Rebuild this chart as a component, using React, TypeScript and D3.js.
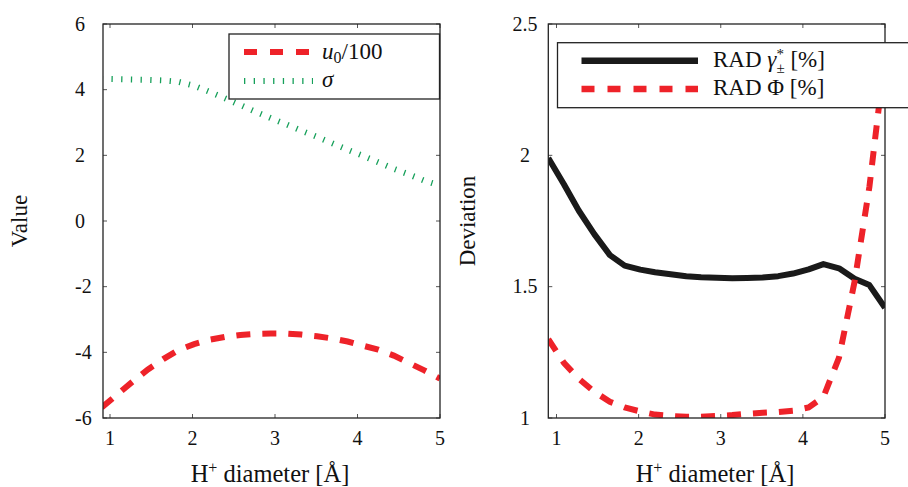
import React from "react";
import * as d3 from "d3";

// H+ diameter grid [Å]
const diam = [0.9, 1.09, 1.27, 1.46, 1.65, 1.83, 2.02, 2.2, 2.39, 2.58, 2.76, 2.95, 3.14, 3.32, 3.51, 3.7, 3.88, 4.07, 4.25, 4.44, 4.63, 4.81, 5.0];

// Left panel
const u0Over100 = [-5.68, -5.28, -4.9, -4.52, -4.2, -3.93, -3.75, -3.62, -3.53, -3.47, -3.44, -3.43, -3.43, -3.46, -3.51, -3.58, -3.67, -3.8, -3.92, -4.1, -4.33, -4.55, -4.8];
const sigma = [4.33, 4.32, 4.31, 4.3, 4.28, 4.24, 4.12, 3.94, 3.74, 3.53, 3.33, 3.13, 2.94, 2.75, 2.56, 2.36, 2.17, 1.98, 1.79, 1.59, 1.41, 1.23, 1.08];

// Right panel
const radGamma = [1.99, 1.89, 1.79, 1.7, 1.62, 1.58, 1.565, 1.555, 1.547, 1.54, 1.536, 1.534, 1.532, 1.533, 1.535, 1.54, 1.55, 1.566, 1.586, 1.57, 1.53, 1.506, 1.42];
const radPhi = [1.3, 1.21, 1.15, 1.1, 1.062, 1.04, 1.025, 1.013, 1.008, 1.005, 1.005, 1.008, 1.011, 1.016, 1.02, 1.023, 1.028, 1.04, 1.08, 1.23, 1.52, 1.88, 2.38];

const xTicks = [1, 2, 3, 4, 5];
const leftYTicks = [-6, -4, -2, 0, 2, 4, 6];
const leftYLabels = ["-6", "-4", "-2", "0", "2", "4", "6"];
const rightYTicks = [1, 1.5, 2, 2.5];
const rightYLabels = ["1", "1.5", "2", "2.5"];

const RED = "#ee2229";
const GREEN = "#16a05a";
const BLACK = "#1a1a1a";
const FONT = "'Liberation Serif', 'Times New Roman', serif";

type PanelProps = {
  id: string;
  x0: number; x1: number; y0: number; y1: number;
  xDomain: [number, number];
  yDomain: [number, number];
  yTicks: number[];
  yLabels: string[];
  yLabelX: number;
  yLabelAnchor: "start" | "middle" | "end";
  children: (sx: d3.ScaleLinear<number, number>, sy: d3.ScaleLinear<number, number>) => React.ReactNode;
};

function Panel(p: PanelProps) {
  const sx = d3.scaleLinear().domain(p.xDomain).range([p.x0, p.x1]);
  const sy = d3.scaleLinear().domain(p.yDomain).range([p.y1, p.y0]);
  const tl = 4;
  return (
    <g>
      <defs>
        <clipPath id={p.id}>
          <rect x={p.x0} y={p.y0} width={p.x1 - p.x0} height={p.y1 - p.y0} />
        </clipPath>
      </defs>
      <g clipPath={`url(#${p.id})`}>{p.children(sx, sy)}</g>
      {xTicks.map((t) => (
        <g key={"xt" + t}>
          <line x1={sx(t)} x2={sx(t)} y1={p.y1} y2={p.y1 - tl} stroke="#555" strokeWidth={1} />
          <line x1={sx(t)} x2={sx(t)} y1={p.y0} y2={p.y0 + tl} stroke="#555" strokeWidth={1} />
          <text x={sx(t)} y={p.y1 + 27} textAnchor="middle" fontSize={20} fontFamily={FONT} fill="#111">{t}</text>
        </g>
      ))}
      {p.yTicks.map((t, i) => (
        <g key={"yt" + t}>
          <line x1={p.x0} x2={p.x0 + tl} y1={sy(t)} y2={sy(t)} stroke="#555" strokeWidth={1} />
          <line x1={p.x1} x2={p.x1 - tl} y1={sy(t)} y2={sy(t)} stroke="#555" strokeWidth={1} />
          <text x={p.yLabelX} y={sy(t) + 6.5} textAnchor={p.yLabelAnchor} fontSize={20} fontFamily={FONT} fill="#111">{p.yLabels[i]}</text>
        </g>
      ))}
      <rect x={p.x0} y={p.y0} width={p.x1 - p.x0} height={p.y1 - p.y0} fill="none" stroke="#222" strokeWidth={1.3} />
    </g>
  );
}

export default function App() {
  const lineOf = (sx: any, sy: any, ys: number[]) =>
    d3.line<number>().x((_, i) => sx(diam[i])).y((v) => sy(v))(ys) || "";

  return (
    <div>
      <style>{`body{margin:0}`}</style>
      <svg width={908} height={487} style={{ display: "block", background: "#fff" }}>
        <rect width={908} height={487} fill="#fff" />
        {/* Left panel */}
        <Panel id="clipL" x0={103} x1={440} y0={24} y1={418} xDomain={[0.915, 5]} yDomain={[-6, 6]}
          yTicks={leftYTicks} yLabels={leftYLabels} yLabelX={75} yLabelAnchor="start">
          {(sx, sy) => (
            <g>
              <path d={lineOf(sx, sy, sigma)} fill="none" stroke={GREEN} strokeWidth={6} strokeDasharray="1.3 8.4" />
              <path d={lineOf(sx, sy, u0Over100)} fill="none" stroke={RED} strokeWidth={6} strokeDasharray="14 12" />
            </g>
          )}
        </Panel>
        {/* Left legend */}
        <g>
          <rect x={229} y={34} width={210.5} height={65} fill="#fff" stroke="#222" strokeWidth={1.3} />
          <line x1={244} x2={313} y1={52} y2={52} stroke={RED} strokeWidth={6} strokeDasharray="13 13" />
          <text x={322} y={58.5} fontSize={23} fontFamily={FONT} fill="#111">
            <tspan fontStyle="italic">u</tspan>
            <tspan fontSize={16} dy={4}>0</tspan>
            <tspan dy={-4}>/100</tspan>
          </text>
          <line x1={244} x2={313} y1={81} y2={81} stroke={GREEN} strokeWidth={6} strokeDasharray="1.3 8.4" />
          <text x={322} y={86.5} fontSize={23} fontFamily={FONT} fontStyle="italic" fill="#111">σ</text>
        </g>
        <text transform="translate(27,221) rotate(-90)" textAnchor="middle" fontSize={23} fontFamily={FONT} fill="#111">Value</text>
        <text x={270} y={481.5} textAnchor="middle" fontSize={24.5} fontFamily={FONT} fill="#111">
          H<tspan fontSize={16} dy={-9}>+</tspan><tspan dy={9}> diameter [Å]</tspan>
        </text>

        {/* Right panel */}
        <Panel id="clipR" x0={548.3} x1={885} y0={24} y1={418} xDomain={[0.9, 5]} yDomain={[1, 2.5]}
          yTicks={rightYTicks} yLabels={rightYLabels} yLabelX={525} yLabelAnchor="middle">
          {(sx, sy) => (
            <g>
              <path d={lineOf(sx, sy, radGamma)} fill="none" stroke={BLACK} strokeWidth={6} strokeLinejoin="round" />
              <path d={lineOf(sx, sy, radPhi)} fill="none" stroke={RED} strokeWidth={6} strokeDasharray="14 12" />
            </g>
          )}
        </Panel>
        {/* Right legend */}
        <g>
          <rect x={557.5} y={42.7} width={360} height={65} fill="#fff" stroke="#222" strokeWidth={1.3} />
          <line x1={581.5} x2={698} y1={60.7} y2={60.7} stroke={BLACK} strokeWidth={6.5} />
          <text x={713} y={66.5} fontSize={23} fontFamily={FONT} fill="#111">
            RAD <tspan fontStyle="italic">γ</tspan>
            <tspan fontSize={15} dy={-8}>*</tspan>
            <tspan fontSize={15} dx={-7.5} dy={14}>±</tspan>
            <tspan dy={-6}> [%]</tspan>
          </text>
          <line x1={581.5} x2={698} y1={89} y2={89} stroke={RED} strokeWidth={6.5} strokeDasharray="13 13" />
          <text x={713} y={95} fontSize={23} fontFamily={FONT} fill="#111">RAD Φ [%]</text>
        </g>
        <text transform="translate(474.5,221) rotate(-90)" textAnchor="middle" fontSize={23} fontFamily={FONT} fill="#111">Deviation</text>
        <text x={715} y={481.5} textAnchor="middle" fontSize={24.5} fontFamily={FONT} fill="#111">
          H<tspan fontSize={16} dy={-9}>+</tspan><tspan dy={9}> diameter [Å]</tspan>
        </text>
      </svg>
    </div>
  );
}
